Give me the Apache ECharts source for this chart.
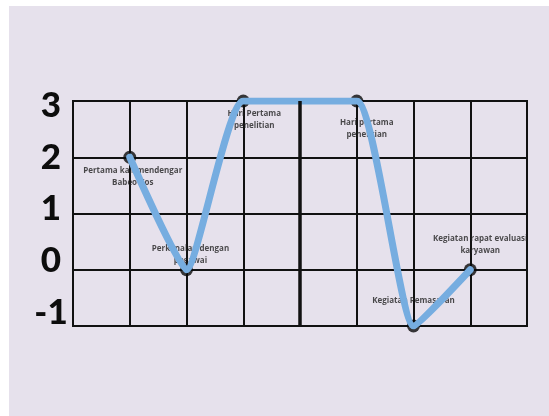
<!DOCTYPE html>
<html>
<head>
<meta charset="utf-8">
<script src="https://cdn.jsdelivr.net/npm/echarts@6/dist/echarts.min.js"></script>
<style>
  html, body { margin: 0; padding: 0; background: #ffffff; }
  #chart { position: absolute; left: 9px; top: 6px; width: 540px; height: 410px; }
</style>
</head>
<body>
<div id="chart"></div>
<script>
// ---- data ----
const eventPositions = [1, 2, 3, 5, 6, 7];
const eventValues = [2, 0, 3, 3, -1, 0];
const eventNames = [
  "Pertama kali mendengar\nBabeo Kos",
  "Perkenalan dengan\npegawai",
  "Hari Pertama\npenelitian",
  "Hari pertama\npenelitian",
  "Kegiatan Pemasaran",
  "Kegiatan rapat evaluasi\nkaryawan"
];
const yTickLabels = [-1, 0, 1, 2, 3];

// ---- layout (label offsets, px) ----
const labelOffsets = [[3, 19], [4, -15], [11, 19], [10, 28], [0, -25], [10, -25]];

const lineData = eventPositions.map((x, i) => [x, eventValues[i]]);
const dotData = eventPositions.map((x, i) => ({
  value: [x, eventValues[i]],
  name: eventNames[i],
  label: { offset: labelOffsets[i] }
}));

const chart = echarts.init(document.getElementById('chart'), null, { renderer: 'canvas' });
chart.setOption({
  backgroundColor: '#e6e1ec',
  animation: false,
  grid: {
    left: 64, right: 22, top: 95, bottom: 90,
    show: true, borderColor: '#111111', borderWidth: 2, backgroundColor: 'transparent'
  },
  xAxis: {
    type: 'value', min: 0, max: 8, interval: 1,
    axisLine: { show: false }, axisTick: { show: false }, axisLabel: { show: false },
    splitLine: { show: true, lineStyle: { color: '#111111', width: 2 } }
  },
  yAxis: [
    {
      type: 'value', min: -1, max: 3, interval: 1,
      axisLine: { show: false }, axisTick: { show: false }, axisLabel: { show: false },
      splitLine: { show: true, lineStyle: { color: '#111111', width: 2 } }
    },
    {
      type: 'value', position: 'left', min: -1.261, max: 3.093,
      axisLine: { show: false }, axisTick: { show: false }, splitLine: { show: false },
      axisLabel: {
        show: true, customValues: yTickLabels, margin: 22,
        align: 'center', verticalAlign: 'middle',
        color: '#0d0d0d', fontSize: 35, fontWeight: 900, fontFamily: 'Lato'
      }
    }
  ],
  series: [
    {
      type: 'scatter',
      data: dotData,
      symbol: 'circle',
      symbolSize: 13,
      itemStyle: { color: '#0a0a0a' },
      z: 2,
      label: {
        show: true, position: 'inside',
        formatter: p => p.name,
        color: '#1f1f1f', fontSize: 8, fontWeight: 'bold', fontFamily: 'Open Sans',
        lineHeight: 12, align: 'center', verticalAlign: 'middle'
      },
      markLine: {
        silent: true, symbol: 'none', label: { show: false },
        lineStyle: { color: '#111111', width: 3.5, type: 'solid' },
        data: [{ xAxis: 4 }]
      }
    },
    {
      type: 'line',
      data: lineData,
      smooth: 0.15,
      showSymbol: false,
      lineStyle: { color: '#76ade0', width: 7, cap: 'round', join: 'round' },
      z: 3
    }
  ]
});
</script>
</body>
</html>
